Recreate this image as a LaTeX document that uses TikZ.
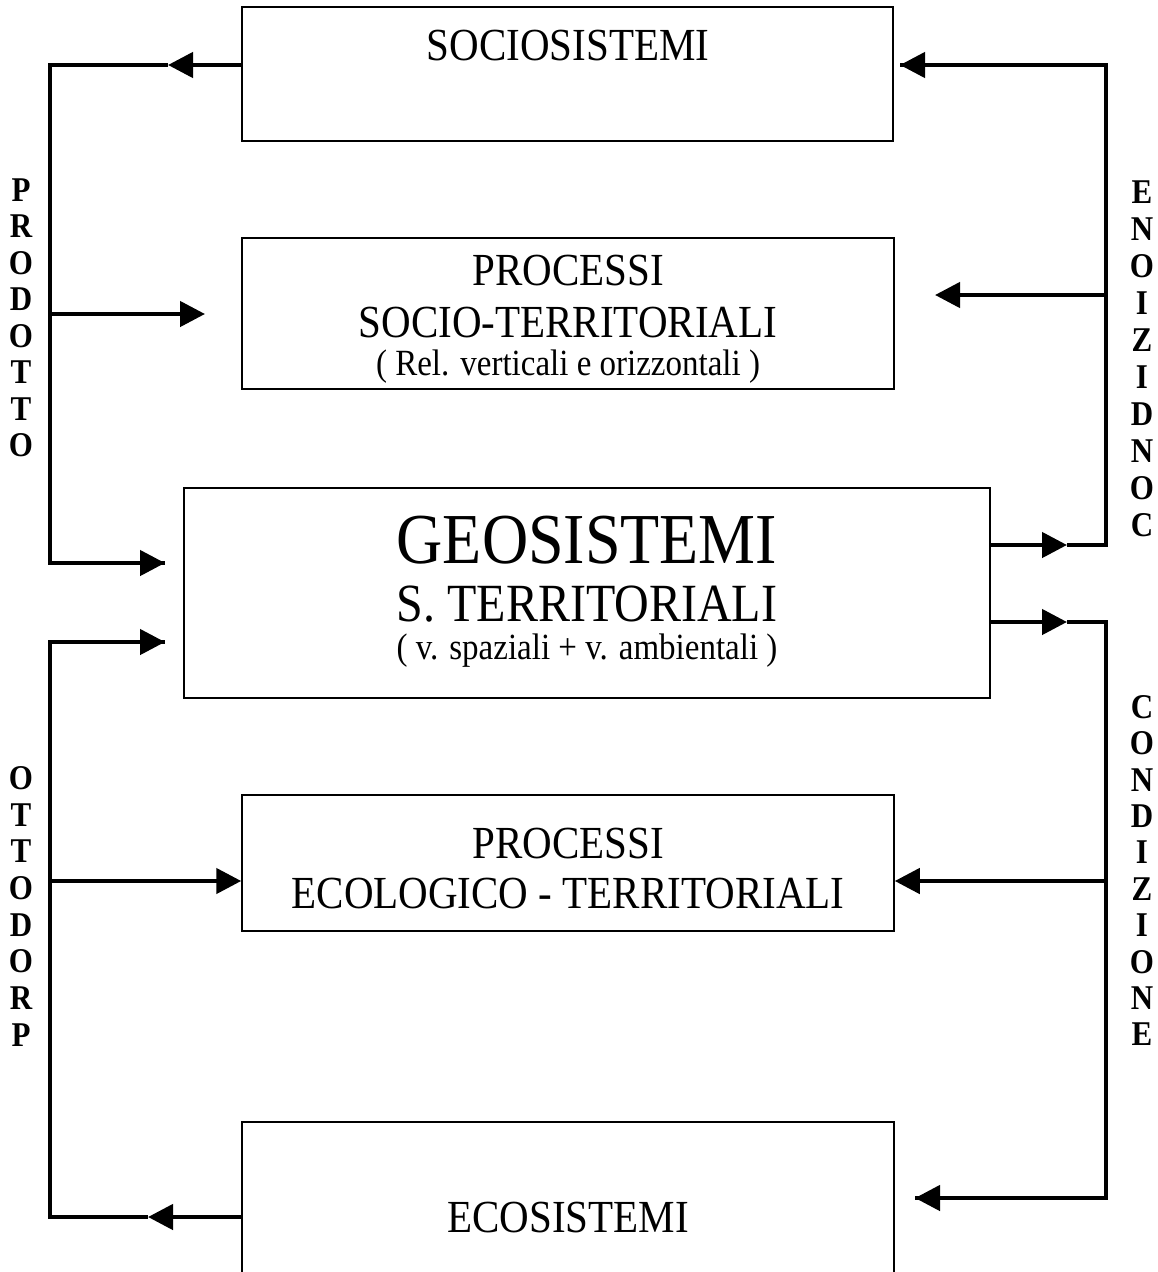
\documentclass[tikz,border=0pt]{standalone}
\usepackage{fontspec}
\setmainfont{Liberation Serif}
\usetikzlibrary{arrows.meta}
\newcommand{\vstr}[1]{\scalebox{1}[1.12]{#1}}
\begin{document}
\begin{tikzpicture}[x=1pt,y=-1pt,
  box/.style={draw=black,line width=1.5pt,fill=none,inner sep=0pt},
  conn/.style={line width=4.5pt,line join=miter,line cap=butt},
  tip/.style={-{Triangle[length=25pt,width=25pt]}},
  main/.style={anchor=base,inner sep=0pt,font=\fontsize{41}{48}\selectfont},
  sub/.style={anchor=base,inner sep=0pt,font=\fontsize{33}{40}\selectfont},
  side/.style={inner sep=0pt,font=\bfseries\fontsize{31}{36}\selectfont}]
\useasboundingbox (0,0) rectangle (1157,1272);
\fill[white] (0,0) rectangle (1157,1272);

% boxes
\node[box,minimum width=651pt,minimum height=134pt] (soc) at (567.5,74) {};
\node[box,minimum width=652pt,minimum height=151pt] (pst) at (568,313.5) {};
\node[box,minimum width=806pt,minimum height=210pt] (geo) at (587,593) {};
\node[box,minimum width=652pt,minimum height=136pt] (pet) at (568,863) {};
\node[box,minimum width=652pt,minimum height=178pt] (eco) at (568,1211) {};

% texts
\node[main] (tsoc) at (568,60) {\vstr{SOCIOSISTEMI}};
\node[main] (tpst1) at (568,285) {\vstr{PROCESSI}};
\node[main] (tpst2) at (568,337) {\vstr{SOCIO-TERRITORIALI}};
\node[sub]  (tpst3) at (568,375) {\vstr{( Rel. verticali e orizzontali )}};
\node[anchor=base,inner sep=0pt,font=\fontsize{64}{70}\selectfont] (tgeo1) at (587,563) {\vstr{GEOSISTEMI}};
\node[anchor=base,inner sep=0pt,font=\fontsize{48}{54}\selectfont] (tgeo2) at (587,621) {\vstr{S. TERRITORIALI}};
\node[sub]  (tgeo3) at (587,659) {\vstr{( v. spaziali + v. ambientali )}};
\node[main] (tpet1) at (568,858) {\vstr{PROCESSI}};
\node[main] (tpet2) at (568,908) {\vstr{ECOLOGICO - TERRITORIALI}};
\node[main] (teco) at (568,1232) {\vstr{ECOSISTEMI}};

% side letters
\foreach \l [count=\i] in {P,R,O,D,O,T,T,O}
  \node[side] (pl\i) at (21,{190+(\i-1)*36.5}) {\vstr{\l}};
\foreach \l [count=\i] in {O,T,T,O,D,O,R,P}
  \node[side] (ol\i) at (21,{778+(\i-1)*36.7}) {\vstr{\l}};
\foreach \l [count=\i] in {E,N,O,I,Z,I,D,N,O,C}
  \node[side] (er\i) at (1142,{192+(\i-1)*37}) {\vstr{\l}};
\foreach \l [count=\i] in {C,O,N,D,I,Z,I,O,N,E}
  \node[side] (cr\i) at (1142,{707+(\i-1)*36.4}) {\vstr{\l}};

% coordinates
\coordinate (L1) at (50,65);
\coordinate (L2) at (50,563);
\coordinate (L3) at (50,642);
\coordinate (L4) at (50,1217);
\coordinate (Lp) at (50,314);
\coordinate (Le) at (50,881);
\coordinate (tA) at (168,65);
\coordinate (tB) at (205,314);
\coordinate (tC) at (165,563);
\coordinate (tD) at (165,642);
\coordinate (tE) at (148,1217);
\coordinate (R1) at (1106,65);
\coordinate (R2) at (1106,545);
\coordinate (R3) at (1106,622);
\coordinate (R4) at (1106,1198);
\coordinate (Rp) at (1106,295);
\coordinate (Re) at (1106,881);
\coordinate (tF) at (900,65);
\coordinate (tG) at (935,295);
\coordinate (tH) at (1067,545);
\coordinate (tI) at (1067,622);
\coordinate (tJ) at (915,1198);

% left upper loop
\draw[conn,tip] (soc.west |- tA) -- (tA);
\draw[conn] (tA) -- (L1) -- (L2) -- (tC);
\draw[conn,tip] (L2) -- (tC);
\draw[conn,tip] (Lp) -- (tB);
% left lower loop
\draw[conn,tip] (eco.west |- tE) -- (tE);
\draw[conn] (tE) -- (L4) -- (L3) -- (tD);
\draw[conn,tip] (L3) -- (tD);
\draw[conn,tip] (Le) -- (pet.west |- Le);
% right upper loop
\draw[conn,tip] (geo.east |- tH) -- (tH);
\draw[conn] (tH) -- (R2) -- (R1) -- (tF);
\draw[conn,tip] (R1) -- (tF);
\draw[conn,tip] (Rp) -- (tG);
% right lower loop
\draw[conn,tip] (geo.east |- tI) -- (tI);
\draw[conn] (tI) -- (R3) -- (R4) -- (tJ);
\draw[conn,tip] (R4) -- (tJ);
\draw[conn,tip] (Re) -- (pet.east |- Re);
\end{tikzpicture}
\end{document}
